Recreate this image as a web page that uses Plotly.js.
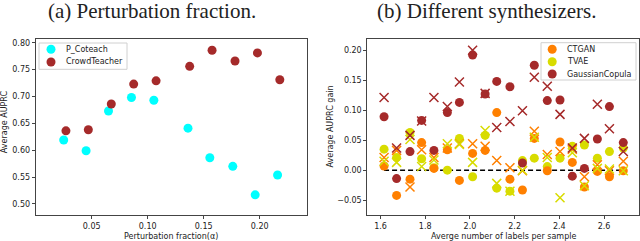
<!DOCTYPE html>
<html>
<head>
<meta charset="utf-8">
<script src="https://cdn.plot.ly/plotly-3.0.1.min.js"></script>
<style>html,body{margin:0;padding:0;background:#fff;}#chart{width:640px;height:241px;}</style>
</head>
<body>
<div id="chart"></div>
<script>
// ---- Panel (a): perturbation fraction ----
const alphaPCoteach = [0.025, 0.045, 0.065, 0.0855, 0.1055, 0.136, 0.1555, 0.176, 0.196, 0.216];
const pCoteach = [0.619, 0.599, 0.673, 0.698, 0.693, 0.641, 0.586, 0.570, 0.517, 0.554];
const alphaCrowd = [0.027, 0.047, 0.0675, 0.0875, 0.1075, 0.1375, 0.1575, 0.178, 0.198, 0.218];
const crowdTeacher = [0.636, 0.638, 0.686, 0.723, 0.729, 0.756, 0.786, 0.766, 0.781, 0.731];
const ticksA_x = [0.05, 0.10, 0.15, 0.20];
const ticksA_y = [0.50, 0.55, 0.60, 0.65, 0.70, 0.75, 0.80];
const legendA = ['P_Coteach', 'CrowdTeacher'];

// ---- Panel (b): different synthesizers ----
const avgLabels = [1.616, 1.672, 1.732, 1.784, 1.839, 1.899, 1.953, 2.012, 2.068, 2.120,
                   2.179, 2.235, 2.288, 2.346, 2.403, 2.458, 2.512, 2.570, 2.624, 2.686];
const ctganDot = [0.007, -0.042, -0.015, 0.046, 0.003, 0.034, -0.017, 0.028, 0.033, 0.096,
                  -0.015, -0.033, 0.053, -0.001, 0.047, 0.013, -0.028, -0.002, -0.011, -0.001];
const tvaeDot = [0.035, 0.021, 0.063, 0.019, 0.004, 0.000, 0.053, -0.011, 0.058, -0.030,
                 -0.035, 0.016, 0.020, 0.006, 0.020, 0.040, 0.042, 0.020, 0.031, 0.037];
const gcDot = [0.089, -0.014, 0.031, 0.083, 0.033, 0.096, 0.113, 0.192, 0.127, 0.148,
               0.139, 0.012, 0.175, 0.116, 0.117, -0.010, 0.003, 0.052, 0.106, 0.046];
const ctganCross = [0.021, 0.033, -0.028, 0.034, 0.021, 0.037, 0.044, 0.044, 0.040, 0.016,
                    0.004, -0.001, 0.065, 0.026, 0.031, 0.035, -0.011, 0.009, -0.001, 0.015];
const tvaeCross = [0.015, 0.013, 0.051, 0.006, 0.017, 0.044, 0.043, 0.013, 0.066, -0.022,
                   -0.035, 0.000, 0.055, 0.021, -0.046, 0.029, -0.026, 0.003, 0.002, -0.001];
const gcCross = [0.121, 0.037, 0.058, 0.082, 0.121, 0.106, 0.147, 0.200, 0.128, 0.071,
                 0.081, 0.099, 0.155, 0.140, 0.093, 0.037, 0.053, 0.110, 0.069, 0.031];
const baselineX = [1.616, 2.686];
const baselineY = [0, 0];
const ticksB_x = [1.6, 1.8, 2.0, 2.2, 2.4, 2.6];
const ticksB_y = [-0.05, 0.00, 0.05, 0.10, 0.15, 0.20];
const legendB = ['CTGAN', 'TVAE', 'GaussianCopula'];

const C_CYAN = '#00FFFF', C_BROWN = '#A52A2A', C_ORANGE = '#FF8000', C_YELLOW = '#D8DC00';
const FONT = 'DejaVu Sans, sans-serif';
const DOT = 9, XS = 9;
const W = 640, H = 241;

function dots(x, y, name, color, xa, ya) {
  return {type: 'scatter', mode: 'markers', x: x, y: y, name: name, xaxis: xa, yaxis: ya, showlegend: false,
          marker: {size: DOT, color: color, line: {width: 0}}};
}
function crosses(x, y, name, color) {
  return {type: 'scatter', mode: 'markers', x: x, y: y, name: name, xaxis: 'x2', yaxis: 'y2', showlegend: false,
          marker: {symbol: 'x-thin', size: XS, color: color, line: {width: 1.5, color: color}}};
}

const data = [
  dots(alphaPCoteach, pCoteach, legendA[0], C_CYAN, 'x', 'y'),
  dots(alphaCrowd, crowdTeacher, legendA[1], C_BROWN, 'x', 'y'),
  {type: 'scatter', mode: 'lines', x: baselineX, y: baselineY, xaxis: 'x2', yaxis: 'y2', showlegend: false,
   line: {color: '#000', width: 1.6, dash: '5px,3px'}},
  dots(avgLabels, tvaeDot, legendB[1], C_YELLOW, 'x2', 'y2'),
  dots(avgLabels, ctganDot, legendB[0], C_ORANGE, 'x2', 'y2'),
  dots(avgLabels, gcDot, legendB[2], C_BROWN, 'x2', 'y2'),
  crosses(avgLabels, ctganCross, legendB[0], C_ORANGE),
  crosses(avgLabels, tvaeCross, legendB[1], C_YELLOW),
  crosses(avgLabels, gcCross, legendB[2], C_BROWN)
];

// ---- manual compact legends (matplotlib style) ----
const shapes = [];
const annotations = [];
function addLegend(box, markerX, textX, rowsY, names, colors) {
  shapes.push({type: 'rect', xref: 'paper', yref: 'paper', layer: 'above',
    x0: box[0] / W, x1: box[1] / W, y0: 1 - box[3] / H, y1: 1 - box[2] / H,
    line: {color: '#d0d0d0', width: 1}, fillcolor: 'rgba(255,255,255,0.85)'});
  names.forEach(function (n, i) {
    shapes.push({type: 'circle', xref: 'paper', yref: 'paper', layer: 'above',
      xsizemode: 'pixel', ysizemode: 'pixel', xanchor: markerX / W, yanchor: 1 - rowsY[i] / H,
      x0: -4.5, x1: 4.5, y0: -4.5, y1: 4.5, fillcolor: colors[i], line: {width: 0}});
    annotations.push({text: n, xref: 'paper', yref: 'paper', x: textX / W, y: 1 - rowsY[i] / H,
      xanchor: 'left', yanchor: 'middle', showarrow: false, borderpad: 0,
      font: {family: FONT, size: 8, color: '#222'}});
  });
}
addLegend([39, 127, 43, 69.3], 51, 64.5, [49.3, 62], legendA, [C_CYAN, C_BROWN]);
addLegend([541, 636, 42.7, 80], 552.2, 566, [49.3, 61.7, 74], legendB, [C_ORANGE, C_YELLOW, C_BROWN]);

function label(text, x, y, angle, size, family) {
  annotations.push({text: text, xref: 'paper', yref: 'paper', x: x / W, y: 1 - y / H,
    xanchor: 'center', yanchor: 'middle', textangle: angle, showarrow: false,
    font: {family: family || FONT, size: size, color: '#222'}});
}
label('(a) Perturbation fraction.', 152, 11, 0, 21, 'Liberation Serif, serif');
label('(b) Different synthesizers.', 486, 11, 0, 21, 'Liberation Serif, serif');
label('Average AUPRC', 4.5, 121.7, -90, 8);
label('Perturbation fraction(α)', 171, 236, 0, 8);
label('Average AUPRC gain', 330, 126.5, -90, 8);
label('Averge number of labels per sample', 503.5, 236, 0, 8);

const axisCommon = {showline: true, mirror: true, linecolor: '#444', linewidth: 1, showgrid: false,
  zeroline: false, ticks: 'outside', ticklen: 3, tickwidth: 1, tickcolor: '#444',
  tickfont: {family: FONT, size: 8, color: '#222'}};

const yDom = [1 - 215 / H, 1 - 38.5 / H];
const layout = {
  width: W, height: H, margin: {l: 0, r: 0, t: 0, b: 0}, showlegend: false,
  paper_bgcolor: '#fff', plot_bgcolor: '#fff', font: {family: FONT, size: 8, color: '#222'},
  xaxis: Object.assign({}, axisCommon, {domain: [35.7 / W, 306.7 / W], range: [0.0, 0.242],
    tickmode: 'array', tickvals: ticksA_x, tickformat: '.2f', anchor: 'y'}),
  yaxis: Object.assign({}, axisCommon, {domain: yDom, range: [0.4795, 0.8078],
    tickmode: 'array', tickvals: ticksA_y, tickformat: '.2f', anchor: 'x'}),
  xaxis2: Object.assign({}, axisCommon, {domain: [367.3 / W, 638.5 / W], range: [1.541, 2.754],
    tickmode: 'array', tickvals: ticksB_x, tickformat: '.1f', anchor: 'y2'}),
  yaxis2: Object.assign({}, axisCommon, {domain: yDom, range: [-0.0747, 0.2195],
    tickmode: 'array', tickvals: ticksB_y, tickformat: '.2f', anchor: 'x2'}),
  shapes: shapes,
  annotations: annotations
};

Plotly.newPlot('chart', data, layout, {displayModeBar: false, staticPlot: true});
</script>
</body>
</html>
